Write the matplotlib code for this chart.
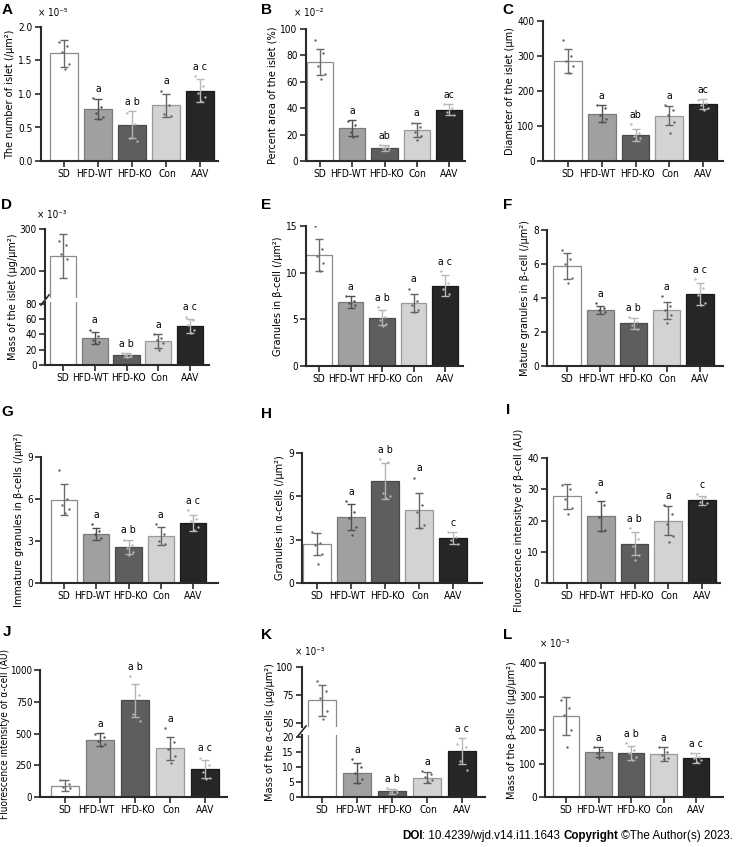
import numpy as np
import matplotlib
matplotlib.use('Agg')
import matplotlib.pyplot as plt
from matplotlib import font_manager
from matplotlib.lines import Line2D
from matplotlib.ticker import FormatStrFormatter
from matplotlib.transforms import ScaledTranslation

# the original uses a narrow Tahoma-like face; take a condensed font if one is installed
entries = font_manager.fontManager.ttflist


def has(name, stretch=None):
    return any(f.name == name and (stretch is None or f.stretch == stretch) for f in entries)


if has('DejaVu Sans', 'condensed'):
    FONT, STRETCH, XFS = 'DejaVu Sans', 'condensed', 7.3
elif has('Roboto Condensed'):
    FONT, STRETCH, XFS = 'Roboto Condensed', 'normal', 8
elif has('Liberation Sans Narrow'):
    FONT, STRETCH, XFS = 'Liberation Sans Narrow', 'normal', 8
else:
    FONT, STRETCH, XFS = 'Liberation Sans', 'normal', 6.4
plt.rcParams['font.family'] = [FONT, 'DejaVu Sans']
plt.rcParams['font.stretch'] = STRETCH
FS = 7.2      # y ticks
TFS = 7.5     # significance letters
LFS = 7.8     # y labels

groups = ['SD', 'HFD-WT', 'HFD-KO', 'Con', 'AAV']
letters_ac = ['', 'a', 'a b', 'a', 'a c']
letters_c = ['', 'a', 'a b', 'a', 'c']
letters_tight = ['', 'a', 'ab', 'a', 'ac']

# A: number of islet (x10^-5 /um2)
a_mean = [1.61, 0.77, 0.54, 0.83, 1.05]
a_err = [0.20, 0.15, 0.20, 0.17, 0.17]
a_dots = [[1.78, 1.72, 1.62, 1.45, 1.38], [0.94, 0.80, 0.72, 0.66, 0.63],
          [0.72, 0.55, 0.35, 0.30], [1.05, 0.83, 0.70, 0.67], [1.27, 1.12, 1.02, 0.95, 0.90]]
# B: percent area (x10^-2 %)
b_mean = [75, 24.8, 9.8, 23.6, 38.7]
b_err = [10, 6, 2, 5.5, 4.2]
b_dots = [[92, 82, 72, 66, 62], [30, 27, 22, 19, 18], [12, 11, 10, 9],
          [29, 26, 22, 19, 16], [43, 40, 37, 35]]
# C: diameter (um)
c_mean = [285, 135, 75, 129, 163]
c_err = [35, 24, 17, 27, 15]
c_dots = [[345, 300, 285, 270, 250], [160, 150, 130, 120, 110], [105, 80, 70, 65, 60],
          [160, 145, 130, 110, 80], [175, 165, 160, 150, 145]]
# D: mass of islet (x10^-3 ug/um2)
d_mean = [235, 35, 12.8, 31.5, 51]
d_err = [53, 8, 2.5, 9, 9]
d_dots = [[272, 262, 240, 228], [46, 38, 33, 30, 28], [15, 14, 13, 12, 11],
          [40, 35, 32, 28, 20], [63, 58, 52, 46, 42]]
# E: granules in beta-cell
e_mean = [11.9, 6.85, 5.15, 6.75, 8.6]
e_err = [1.7, 0.6, 0.8, 1.0, 1.1]
e_dots = [[15, 12.5, 11.8, 11, 10.2], [7.5, 7.0, 6.7, 6.5], [6.3, 5.3, 4.9, 4.5, 4.3],
          [8.3, 7.0, 6.5, 6.0, 5.8], [10.2, 8.9, 8.2, 7.7]]
# F: mature granules
f_mean = [5.88, 3.3, 2.5, 3.27, 4.24]
f_err = [0.78, 0.25, 0.35, 0.5, 0.63]
f_dots = [[6.8, 6.3, 6.0, 5.2, 4.9], [3.7, 3.4, 3.3, 3.2], [2.9, 2.6, 2.4, 2.2],
          [4.1, 3.5, 3.3, 3.0, 2.5], [5.1, 4.6, 4.2, 3.7, 3.6]]
# G: immature granules
g_mean = [5.95, 3.52, 2.6, 3.38, 4.3]
g_err = [1.1, 0.42, 0.5, 0.63, 0.55]
g_dots = [[8.1, 6.0, 5.6, 5.3, 5.0], [4.2, 3.7, 3.5, 3.2], [3.1, 2.7, 2.5, 2.2, 2.0],
          [4.2, 3.5, 3.0, 2.8], [5.2, 4.6, 4.4, 4.0, 3.8]]
# H: granules in alpha-cells
h_mean = [2.7, 4.57, 7.09, 5.03, 3.12]
h_err = [0.77, 0.87, 1.25, 1.2, 0.43]
h_dots = [[3.5, 2.8, 2.6, 2.0, 1.3], [5.7, 4.9, 4.5, 3.9, 3.3], [8.6, 8.4, 6.2, 6.0, 5.9],
          [7.3, 5.4, 4.9, 4.0, 3.8], [3.5, 3.2, 3.0, 2.7]]
# I: fluorescence beta-cell
i_mean = [27.7, 21.3, 12.6, 20.0, 26.5]
i_err = [3.9, 4.8, 3.6, 4.7, 1.4]
i_dots = [[31.5, 30, 27, 24, 22], [29, 25, 21, 17, 16.5], [17.5, 14, 12, 9, 7.5],
          [25, 22, 19, 15, 13], [28.5, 27.5, 26, 25.5]]
# J: fluorescence alpha-cell
j_mean = [90, 450, 763, 385, 218]
j_err = [40, 52, 130, 90, 70]
j_dots = [[130, 100, 80, 70], [500, 470, 440, 420, 400], [950, 800, 650, 600],
          [540, 430, 380, 320, 270], [310, 250, 200, 150, 140]]
# K: mass of alpha-cells (x10^-3)
k_mean = [70, 7.9, 1.9, 6.4, 15.2]
k_err = [14, 3.4, 0.8, 1.9, 4.4]
k_dots = [[87, 78, 72, 60, 53], [12.5, 10, 8, 6, 4.5], [3, 2.2, 1.8, 1.5],
          [8.5, 7.5, 6.5, 5.5, 5], [17.5, 16.5, 12, 9]]
# L: mass of beta-cells (x10^-3)
l_mean = [241, 134, 131, 128, 116]
l_err = [57, 15, 21, 20, 15]
l_dots = [[290, 265, 245, 200, 148], [148, 140, 130, 120, 115], [160, 140, 130, 120, 110],
          [150, 135, 125, 115, 112], [132, 120, 115, 110, 105]]

bar_colors = ['#ffffff', '#a0a0a0', '#5e5e5e', '#d3d3d3', '#262626']
edge_colors = ['#8c8c8c', '#7a7a7a', '#4a4a4a', '#9a9a9a', '#1a1a1a']
err_colors = ['#6a6a6a', '#505050', '#b4b4b4', '#636363', '#b8b8b8']
dot_dx = np.array([-0.14, 0.10, -0.05, 0.14, 0.02, -0.10])
label_shift = [0, -4, 2, 1, 0]   # px, the original nudges HFD-WT left

W, H = 737, 847
fig = plt.figure(figsize=(W / 100, H / 100), dpi=100)


def box(l, t, r, b):
    return [l / W, 1 - b / H, (r - l) / W, (b - t) / H]


def xlims(l, first, last, r):
    step = (last - first) / 4
    return (-(first - l) / step, 4 + (r - last) / step)


def draw(ax, mean, err, dots):
    x = np.arange(5)
    ax.bar(x, mean, width=0.82, color=bar_colors, edgecolor=edge_colors,
           linewidth=0.9, zorder=2)
    for i in range(5):
        ax.errorbar(i, mean[i], yerr=err[i], fmt='none', ecolor=err_colors[i],
                    elinewidth=1.0, capsize=3.2, capthick=1.0, zorder=3)
        d = dots[i]
        ax.scatter(i + dot_dx[:len(d)], d, s=3, color=err_colors[i], lw=0, zorder=4)


def style(ax, xl, ylim, yticks):
    ax.set_xlim(xl)
    ax.set_ylim(ylim)
    ax.set_yticks(yticks)
    for s in ('top', 'right'):
        ax.spines[s].set_visible(False)
    for s in ('left', 'bottom'):
        ax.spines[s].set_linewidth(1.5)
        ax.spines[s].set_color('#2a2a2a')
    ax.set_xticks(range(5))
    ax.set_xticklabels(groups, fontsize=XFS)
    ax.tick_params(length=4, width=1.2, color='#2a2a2a', pad=2)
    ax.tick_params(axis='y', labelsize=FS)
    # shift after tick_params, which resets the label transforms
    for lab, dx in zip(ax.get_xticklabels(), label_shift):
        lab.set_transform(lab.get_transform() + ScaledTranslation(dx / 100, 0, fig.dpi_scale_trans))
    ax.patch.set_alpha(0)


def mark(ax, mean, err, dots, letters):
    for i, t in enumerate(letters):
        if t:
            top = max(mean[i] + err[i], max(dots[i]))
            ax.annotate(t, (i, top), xytext=(0, 3), textcoords='offset points',
                        ha='center', va='bottom', fontsize=TFS)


def tag(x, y, s):
    fig.text(x / W, 1 - y / H, s, ha='center', va='center', fontsize=11, fontweight='bold',
             fontstretch='normal', family=['Liberation Sans', 'DejaVu Sans'])


def mult(x, y, s):
    fig.text(x / W, 1 - y / H, s, ha='left', va='center', fontsize=7)


# ordinary panels: data, box (l, t, r, b), first/last bar centre px, y range, ticks, letters
simple = [
    ('A', a_mean, a_err, a_dots, (41, 27, 218, 161), (64, 200), (0, 2.0), [0, 0.5, 1.0, 1.5, 2.0], letters_ac, 'The number of islet (/μm²)'),
    ('B', b_mean, b_err, b_dots, (306, 29, 465, 161), (320, 449), (0, 100), [0, 20, 40, 60, 80, 100], letters_tight, 'Percent area of the islet (%)'),
    ('C', c_mean, c_err, c_dots, (543, 21, 723, 161), (568, 703), (0, 400), [0, 100, 200, 300, 400], letters_tight, 'Diameter of the islet (μm)'),
    ('E', e_mean, e_err, e_dots, (306, 226, 463, 366), (319, 445), (0, 15), [0, 5, 10, 15], letters_ac, 'Granules in β-cell (/μm²)'),
    ('F', f_mean, f_err, f_dots, (547, 230, 723, 366), (567, 700), (0, 8), [0, 2, 4, 6, 8], letters_ac, 'Mature granules in β-cell (/μm²)'),
    ('G', g_mean, g_err, g_dots, (41, 457, 218, 583), (64, 193), (0, 9), [0, 3, 6, 9], letters_ac, 'Immature granules in β-cells (/μm²)'),
    ('H', h_mean, h_err, h_dots, (302, 453, 482, 583), (317, 453), (0, 9), [0, 3, 6, 9], letters_c, 'Granules in α-cells (/μm²)'),
    ('I', i_mean, i_err, i_dots, (547, 458, 720, 583), (567, 702), (0, 40), [0, 10, 20, 30, 40], letters_c, 'Fluorescence intensitye of β-cell (AU)'),
    ('J', j_mean, j_err, j_dots, (40, 670, 227, 797), (65, 205), (0, 1000), [0, 250, 500, 750, 1000], letters_ac, 'Fluorescence intensitye of α-cell (AU)'),
    ('L', l_mean, l_err, l_dots, (545, 663, 723, 797), (566, 696), (0, 400), [0, 100, 200, 300, 400], letters_ac, 'Mass of the β-cells (μg/μm²)'),
]

for name, mean, err, dots, (l, t, r, b), (x0, x1), ylim, ticks, lett, lab in simple:
    ax = fig.add_axes(box(l, t, r, b))
    draw(ax, mean, err, dots)
    style(ax, xlims(l, x0, x1, r), ylim, ticks)
    if name == 'A':
        ax.yaxis.set_major_formatter(FormatStrFormatter('%.1f'))
    mark(ax, mean, err, dots, lett)
    if name == 'J':
        # wide tick labels would push this one off the page
        ax.tick_params(axis='y', labelsize=6.9, pad=1.5)
        fig.text(5.5 / W, 1 - (t + b) / 2 / H, lab, rotation=90, ha='center',
                 va='center', fontsize=7.2)
    else:
        ax.set_ylabel(lab, fontsize=LFS, labelpad=2)

# broken-axis panels D and K
broken = [
    ('D', d_mean, d_err, d_dots, 45, 209, 229, 298, 302, 365, (63, 190), (135, 300), [200, 300], (0, 82), [0, 20, 40, 60, 80], 'Mass of the islet (μg/μm²)'),
    ('K', k_mean, k_err, k_dots, 302, 485, 667, 727, 735, 797, (322, 462), (46, 100), [50, 75, 100], (0, 20.5), [0, 5, 10, 15, 20], 'Mass of the α-cells (μg/μm²)'),
]

for name, mean, err, dots, l, r, tu, bu, tl, b, (x0, x1), ylu, tku, yll, tkl, lab in broken:
    xl = xlims(l, x0, x1, r)
    axu = fig.add_axes(box(l, tu, r, bu))
    axl = fig.add_axes(box(l, tl, r, b))
    for ax in (axu, axl):
        draw(ax, mean, err, dots)
    style(axu, xl, ylu, tku)
    style(axl, xl, yll, tkl)
    axu.spines['bottom'].set_visible(False)
    axu.tick_params(axis='x', bottom=False, labelbottom=False)
    mark(axl, mean, err, dots, letters_ac)
    gy = (bu + tl) / 2
    fig.add_artist(Line2D([(l - 4) / W, (l + 4) / W], [1 - (gy + 5) / H, 1 - (gy - 5) / H],
                          color='#2a2a2a', lw=1.2))
    fig.text((l - 32) / W, 1 - (tu + b) / 2 / H, lab, rotation=90, ha='center',
             va='center', fontsize=LFS)

# multipliers
mult(38, 13, '× 10⁻⁵')
mult(294, 13, '× 10⁻²')
mult(37, 215, '× 10⁻³')
mult(295, 652, '× 10⁻³')
mult(540, 644, '× 10⁻³')

# panel letters
for s, x, y in [('A', 7, 10), ('B', 266, 10), ('C', 508, 10),
                ('D', 7, 205), ('E', 266, 205), ('F', 508, 205),
                ('G', 7, 412), ('H', 266, 414), ('I', 508, 410),
                ('J', 7, 632), ('K', 266, 635), ('L', 508, 635)]:
    tag(x, y, s)

# footer
pieces = [('DOI', 'bold'), (': 10.4239/wjd.v14.i11.1643', 'normal'), (' ', 'normal'),
          ('Copyright', 'bold'), (' ©The Author(s) 2023.', 'normal')]
renderer = fig.canvas.get_renderer()
texts = []
for s, wgt in pieces:
    texts.append(fig.text(0, 1 - 836 / H, s, fontsize=8.4, fontweight=wgt, va='center',
                          fontstretch='normal', family=['Liberation Sans', 'DejaVu Sans']))
widths = [tx.get_window_extent(renderer).width for tx in texts]
widths[2] = 3
x = 733 - sum(widths)
for tx, w in zip(texts, widths):
    tx.set_x(x / W)
    x += w

fig.savefig('out.png', dpi=100)
